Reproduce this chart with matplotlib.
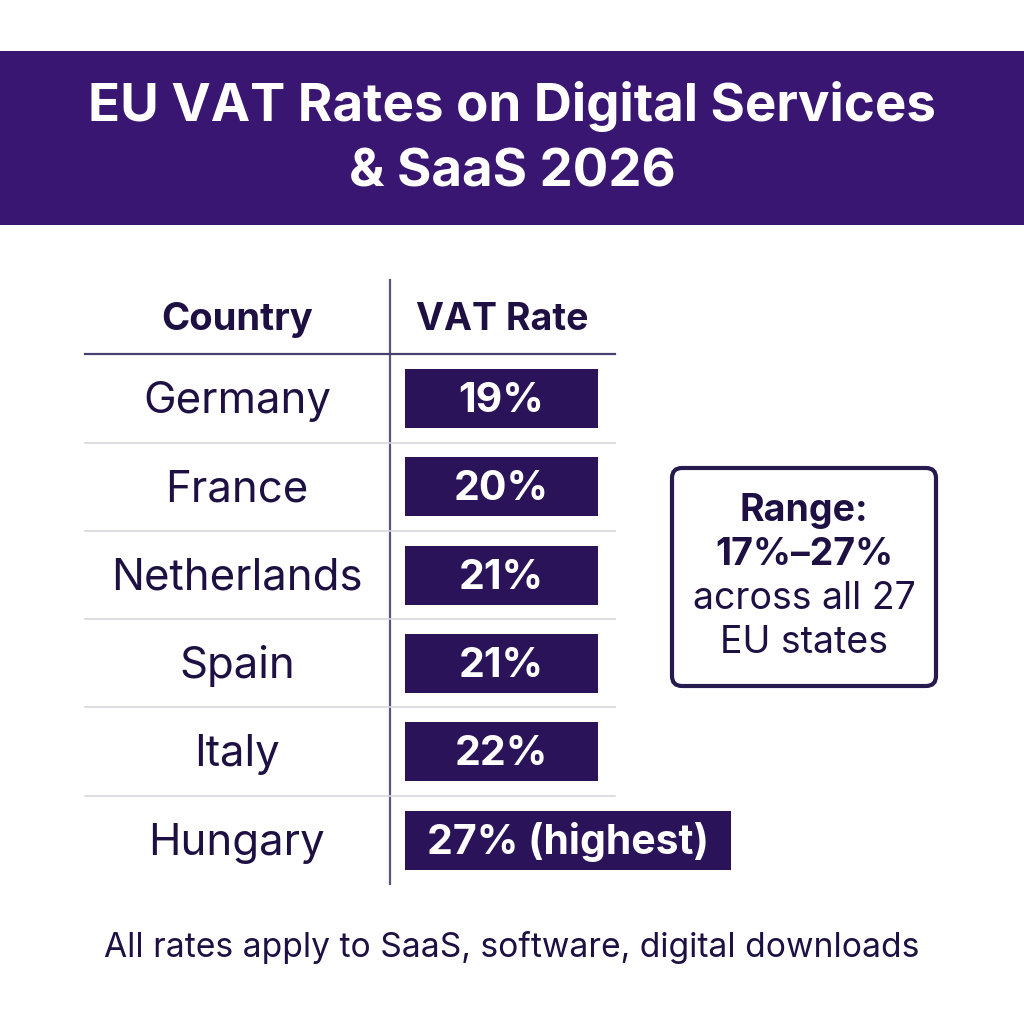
import matplotlib
matplotlib.use("Agg")
import matplotlib.pyplot as plt
from matplotlib.patches import Rectangle, FancyBboxPatch

plt.rcParams['font.family'] = ['Inter', 'DejaVu Sans']

title_lines = ["EU VAT Rates on Digital Services", "& SaaS 2026"]
col_headers = ["Country", "VAT Rate"]
countries = ["Germany", "France", "Netherlands", "Spain", "Italy", "Hungary"]
vat_rates = [19, 20, 21, 21, 22, 27]
rate_notes = ["", "", "", "", "", " (highest)"]
range_lines = ["Range:", "17%\u201327%", "across all 27", "EU states"]
footer = "All rates apply to SaaS, software, digital downloads"

PURPLE = "#3a1673"
BAR = "#2a1358"
INK = "#1e1042"

fig = plt.figure(figsize=(10.24, 10.24), dpi=100)
ax = fig.add_axes([0, 0, 1, 1])
ax.set_xlim(0, 1024)
ax.set_ylim(1024, 0)
ax.axis("off")

# header band
ax.add_patch(Rectangle((0, 51), 1024, 174, facecolor=PURPLE, edgecolor="none"))
for i, t in enumerate(title_lines):
    ax.text(512, 107 + i * 66, t, color="white", fontsize=38, fontweight="bold",
            ha="center", va="center")

# table headers
ax.text(237, 320, col_headers[0], color=INK, fontsize=27.5, fontweight="bold", ha="center", va="center")
ax.text(502, 320, col_headers[1], color=INK, fontsize=27, fontweight="bold", ha="center", va="center")
ax.plot([390, 390], [280, 884], color="#5e5478", lw=1.6)
ax.plot([85, 615], [354, 354], color="#4a4070", lw=1.6)

row0 = 399
dy = 88.3
for i, (c, v, n) in enumerate(zip(countries, vat_rates, rate_notes)):
    y = row0 + i * dy
    ax.text(237, y + 2.5, c, color=INK, fontsize=31.5, ha="center", va="center")
    label = f"{v}%{n}"
    w = 193 if not n else 326
    ax.add_patch(Rectangle((405, y - 30), w, 59, facecolor=BAR, edgecolor="none"))
    ax.text(405 + w / 2, y + 2, label, color="white", fontsize=29.5, fontweight="bold",
            ha="center", va="center")
    if i < len(countries) - 1:
        ax.plot([85, 615], [y + 43.5, y + 43.5], color="#d8d6dc", lw=1.2)

# range box
ax.add_patch(FancyBboxPatch((672, 468), 264, 218, boxstyle="round,pad=0,rounding_size=10",
                            facecolor="white", edgecolor="#261a4e", lw=3))
ys = [511, 555, 599, 643]
for j, (t, y) in enumerate(zip(range_lines, ys)):
    ax.text(804, y, t, color=INK, fontsize=27, fontweight="bold" if j < 2 else "normal",
            ha="center", va="center")

ax.text(512, 948, footer, color=INK, fontsize=24.2, ha="center", va="center")

fig.savefig("out.png", dpi=100, facecolor="white")
